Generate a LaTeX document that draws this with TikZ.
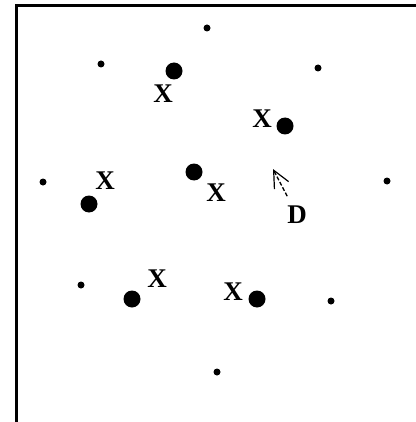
\documentclass[tikz,border=0pt]{standalone}
\usepackage{fontspec}
\setmainfont{Liberation Serif}
\usepackage{tikz}
\usetikzlibrary{arrows.meta}

\begin{document}
\begin{tikzpicture}[x=1pt,y=-1pt,
    smalldot/.style={circle,fill=black,inner sep=0pt,minimum size=7pt},
    bigdot/.style={circle,fill=black,inner sep=0pt,minimum size=17pt},
    lbl/.style={inner sep=0pt,font=\bfseries\fontsize{27}{27}\selectfont}]
    \useasboundingbox (0,0) rectangle (415,422);
    \draw[line width=2.6pt] (16.7,423) -- (16.7,5.3) -- (416,5.3);
    \foreach \x/\y [count=\i] in {207/28,101/64,318/68,43/182,387/181,81/285,331/301,217/372}
        {\node[smalldot] (s\i) at (\x,\y) {};}
    \foreach \x/\y/\lx/\ly [count=\i] in {174/71/163/94,285/126/262/119,194/172/216/193,89/204/105/181,132/299/157/279,257/299/233/292}
        {\node[bigdot] (b\i) at (\x,\y) {};
         \node[lbl] (x\i) at (\lx,\ly) {X};}
    \node[lbl] (D) at (297,215) {D};
    \coordinate (tip) at (273,169);
    \draw[dash pattern=on 4pt off 2pt,line width=1.3pt,shorten <=11pt,-{Straight Barb[length=17pt,width=16pt,line width=1.2pt]}] (D) -- (tip);
\end{tikzpicture}
\end{document}
